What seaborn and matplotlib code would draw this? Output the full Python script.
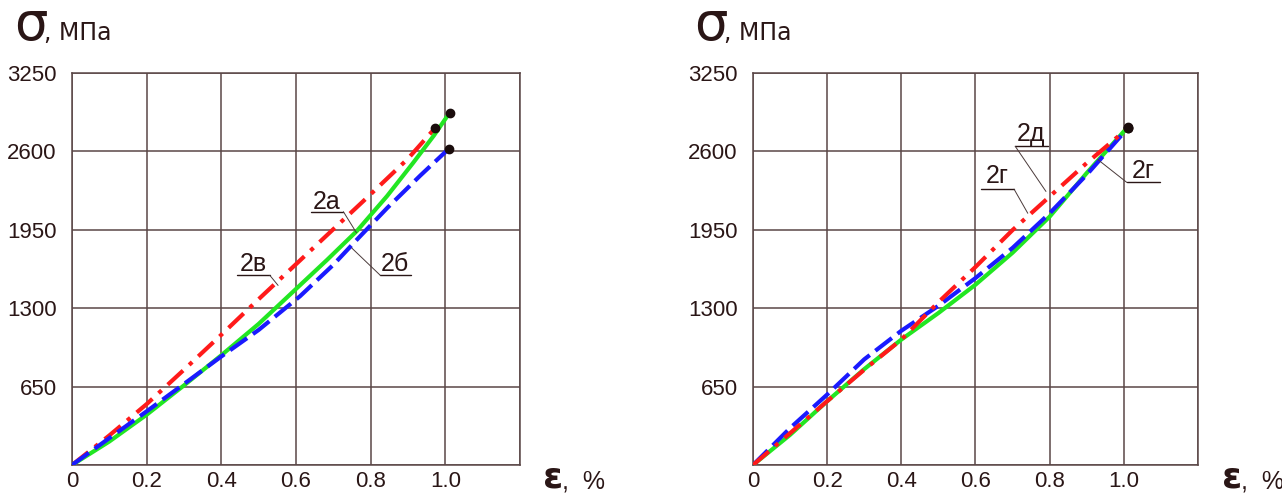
import matplotlib
matplotlib.use("Agg")
import matplotlib.pyplot as plt
import pandas as pd
import seaborn as sns

# strain eps, % and stress sigma, MPa
eps_left_red = [0.0, 0.1, 0.2, 0.3, 0.4, 0.5, 0.6, 0.7, 0.8, 0.9, 0.973]
sig_left_red = [0, 245, 505, 790, 1080, 1375, 1665, 1955, 2245, 2540, 2795]
eps_left_green = [0.0, 0.1, 0.2, 0.3, 0.4, 0.5, 0.576, 0.683, 0.763, 0.844, 0.915, 0.969, 1.0115]
sig_left_green = [0, 195, 417, 660, 910, 1170, 1390, 1700, 1940, 2230, 2510, 2730, 2920]
eps_left_blue = [0.0, 0.1, 0.2, 0.3, 0.4, 0.5, 0.611, 0.7, 0.763, 0.844, 0.933, 1.009]
sig_left_blue = [0, 223, 445, 672, 900, 1120, 1400, 1660, 1868, 2130, 2400, 2621]

eps_right_red = [0.0, 0.1, 0.2, 0.3, 0.4, 0.5, 0.6, 0.7, 0.8, 0.9, 1.01]
sig_right_red = [0, 264, 529, 790, 1040, 1350, 1642, 1948, 2226, 2504, 2790]
eps_right_blue = [0.0, 0.1, 0.2, 0.3, 0.4, 0.5, 0.6, 0.7, 0.8, 0.9, 1.01]
sig_right_blue = [0, 306, 584, 876, 1113, 1320, 1550, 1800, 2087, 2407, 2790]
eps_right_green = [0.0, 0.1, 0.2, 0.3, 0.4, 0.5, 0.6, 0.7, 0.8, 0.9, 1.01]
sig_right_green = [0, 250, 529, 795, 1040, 1260, 1495, 1760, 2059, 2421, 2800]

x_ticks = [0, 0.2, 0.4, 0.6, 0.8, 1.0]
x_tick_labels = ["0", "0.2", "0.4", "0.6", "0.8", "1.0"]
y_ticks = [650, 1300, 1950, 2600, 3250]

# curve name, text position, underline (x0, x1, y), leader start, leader end
left_labels = [
    ("2а", (0.683, 2184), (0.64, 0.727, 2100), (0.727, 2100), (0.762, 1925)),
    ("2б", (0.865, 1670), (0.826, 0.909, 1572), (0.826, 1572), (0.749, 1800)),
    ("2в", (0.485, 1670), (0.442, 0.53, 1572), (0.53, 1572), (0.552, 1489)),
]
right_labels = [
    ("2д", (0.75, 2741), (0.707, 0.796, 2643), (0.707, 2643), (0.79, 2268)),
    ("2г", (0.66, 2393), (0.616, 0.704, 2287), (0.704, 2287), (0.741, 2087)),
    ("2г", (1.053, 2435), (1.008, 1.098, 2343), (1.008, 2343), (0.93, 2532)),
]

RED = "#ff1a1a"
GREEN = "#22e622"
BLUE = "#1a1aff"
GRID = "#5a4646"
TEXT = "#2a1616"

sns.set_theme(style="white")
plt.rcParams["font.family"] = ["Liberation Sans", "DejaVu Sans"]

W, H = 1282, 495
fig = plt.figure(figsize=(W / 100, H / 100), dpi=100)


def px_axes(x0, x1, y0, y1):
    return fig.add_axes([x0 / W, 1 - y1 / H, (x1 - x0) / W, (y1 - y0) / H])


def draw_curve(ax, x, y, color, ls):
    df = pd.DataFrame({"eps": x, "sig": y})
    sns.lineplot(data=df, x="eps", y="sig", ax=ax, color=color, linestyle=ls,
                 linewidth=3, sort=False, estimator=None, zorder=3)
    ax.plot(x[-1], y[-1], "o", color="#1a0c0c", markersize=6, zorder=4)


def style_axes(ax):
    ax.set_xlim(0, 1.2)
    ax.set_ylim(0, 3250)
    ax.set_xticks(x_ticks + [1.2])
    ax.set_xticklabels(x_tick_labels + [""])
    ax.set_yticks([0] + y_ticks)
    ax.set_yticklabels([""] + [str(v) for v in y_ticks])
    ax.grid(True, color=GRID, linewidth=1.1)
    for s in ax.spines.values():
        s.set_color(GRID)
        s.set_linewidth(1.1)
    ax.tick_params(axis="y", length=0, labelsize=16, colors=TEXT, pad=11)
    ax.tick_params(axis="x", length=0, labelsize=16, colors=TEXT, pad=4)
    ax.set_xlabel("")
    ax.set_ylabel("")


def draw_labels(ax, labels):
    for text, tpos, uline, lstart, lend in labels:
        ax.text(tpos[0], tpos[1], text, fontsize=18, color=TEXT, ha="center",
                va="center", zorder=5)
        ax.plot([uline[0], uline[1]], [uline[2], uline[2]], color=TEXT,
                linewidth=1.0, zorder=5)
        ax.plot([lstart[0], lend[0]], [lstart[1], lend[1]], color="#4a3a3a",
                linewidth=0.7, zorder=5)


ax1 = px_axes(72, 520, 73, 465)
draw_curve(ax1, eps_left_red, sig_left_red, RED, (0, (5, 2, 1, 2)))
draw_curve(ax1, eps_left_green, sig_left_green, GREEN, "-")
draw_curve(ax1, eps_left_blue, sig_left_blue, BLUE, (0, (5, 1.7)))
style_axes(ax1)
draw_labels(ax1, left_labels)

ax2 = px_axes(753, 1198, 73, 465)
draw_curve(ax2, eps_right_green, sig_right_green, GREEN, "-")
draw_curve(ax2, eps_right_blue, sig_right_blue, BLUE, (0, (5, 1.7)))
draw_curve(ax2, eps_right_red, sig_right_red, RED, (0, (5, 2, 1, 2)))
style_axes(ax2)
draw_labels(ax2, right_labels)

for x0 in (14, 694):
    fig.text(x0 / W, 1 - 40 / H, "σ", fontsize=38, color=TEXT,
             family=["DejaVu Sans"])
    fig.text((x0 + 30) / W, 1 - 40 / H, ", МПа", fontsize=17, color=TEXT,
             family=["DejaVu Sans"])
for x0 in (543, 1222):
    fig.text(x0 / W, 1 - 488 / H, "ε", fontsize=26, color=TEXT,
             fontweight="bold", family=["DejaVu Sans"])
    fig.text((x0 + 19) / W, 1 - 488 / H, ",  %", fontsize=18, color=TEXT)

fig.savefig("out.png", dpi=100)
